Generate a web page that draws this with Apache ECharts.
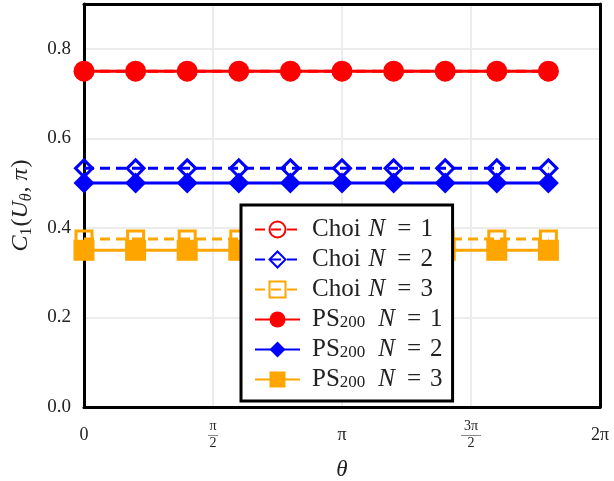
<!DOCTYPE html>
<html><head><meta charset="utf-8">
<script src="https://cdn.jsdelivr.net/npm/echarts@6/dist/echarts.min.js"></script>
<style>html,body{margin:0;padding:0;background:#fff}#c{width:614px;height:481px}</style>
</head><body><div id="c"></div>
<script>
// theta in units of pi
const thetaOverPi = [0, 0.2, 0.4, 0.6, 0.8, 1.0, 1.2, 1.4, 1.6, 1.8];
const choiN1 = [0.75, 0.75, 0.75, 0.75, 0.75, 0.75, 0.75, 0.75, 0.75, 0.75];
const choiN2 = [0.533, 0.533, 0.533, 0.533, 0.533, 0.533, 0.533, 0.533, 0.533, 0.533];
const choiN3 = [0.375, 0.375, 0.375, 0.375, 0.375, 0.375, 0.375, 0.375, 0.375, 0.375];
const psN1 = [0.75, 0.75, 0.75, 0.75, 0.75, 0.75, 0.75, 0.75, 0.75, 0.75];
const psN2 = [0.5, 0.5, 0.5, 0.5, 0.5, 0.5, 0.5, 0.5, 0.5, 0.5];
const psN3 = [0.35, 0.35, 0.35, 0.35, 0.35, 0.35, 0.35, 0.35, 0.35, 0.35];
const xTickLabels = {0: '{n|0}', 0.5: '{f|π}\n{bar|―}\n{f|2}', 1: '{n|π}', 1.5: '{f|3π}\n{bar|――}\n{f|2}', 2: '{n|2π}'};
const yTickLabels = ['0.0', '0.2', '0.4', '0.6', '0.8'];

const FONT = 'Liberation Serif';
const TXT = '#222';
const RED = '#ff0000', BLUE = '#0000ff', ORANGE = '#ffa500';
function pairs(ys) { return ys.map((y, i) => [thetaOverPi[i], y]); }

function choi(name, ys, color, symbol, size) {
  return {
    name, type: 'line', data: pairs(ys), symbol, symbolSize: size,
    lineStyle: {color, width: 3, type: [10, 6]},
    itemStyle: {color: 'rgba(255,255,255,0)', borderColor: color, borderWidth: 3},
    z: 2
  };
}
function ps(name, ys, color, symbol, size) {
  return {
    name, type: 'line', data: pairs(ys), symbol, symbolSize: size,
    lineStyle: {color, width: 3},
    itemStyle: {color, borderColor: color, borderWidth: 0},
    z: 3
  };
}
const frameLine = {show: true, onZero: false, lineStyle: {color: '#000', width: 3}};

const chart = echarts.init(document.getElementById('c'));
chart.setOption({
  animation: false,
  backgroundColor: '#fff',
  grid: {left: 84, right: 14, top: 4, bottom: 74, containLabel: false, outerBoundsMode: 'none'},
  xAxis: [{
    type: 'value', min: 0, max: 2, interval: 0.5,
    axisLine: frameLine, axisTick: {show: false},
    splitLine: {show: true, showMinLine: false, showMaxLine: false, lineStyle: {color: '#ececec', width: 2}},
    axisLabel: {
      margin: 13, color: TXT, fontFamily: FONT,
      formatter: v => xTickLabels[v],
      rich: {
        n: {fontSize: 18, fontFamily: FONT, color: TXT, lineHeight: 31},
        f: {fontSize: 14, fontFamily: FONT, color: TXT, lineHeight: 13},
        bar: {fontSize: 10, fontFamily: FONT, color: TXT, lineHeight: 4}
      }
    },
    name: 'θ', nameLocation: 'middle', nameGap: 51,
    nameTextStyle: {fontFamily: FONT, fontStyle: 'italic', fontSize: 23, color: TXT}
  }, {
    type: 'value', position: 'top', min: 0, max: 2, interval: 0.5,
    axisLine: frameLine, axisTick: {show: false}, axisLabel: {show: false}, splitLine: {show: false}
  }],
  yAxis: [{
    type: 'value', min: 0, max: 0.9, interval: 0.2,
    axisLine: frameLine, axisTick: {show: false},
    splitLine: {show: true, showMinLine: false, showMaxLine: false, lineStyle: {color: '#ececec', width: 2}},
    axisLabel: {
      margin: 13, fontSize: 19, fontFamily: FONT, color: TXT,
      formatter: v => { const i = Math.round(v / 0.2); return yTickLabels[i] !== undefined && Math.abs(v - i * 0.2) < 1e-6 ? yTickLabels[i] : ''; }
    },
    name: '{i|C}{s1|1}{n|(}{i|U}{s|θ}{n|,}{i2|π}{n|)}', nameLocation: 'middle', nameGap: 49,
    nameTextStyle: {
      fontFamily: FONT, fontSize: 24, color: TXT,
      rich: {
        i: {fontFamily: FONT, fontStyle: 'italic', fontSize: 24, color: TXT, lineHeight: 28, verticalAlign: 'middle'},
        i2: {fontFamily: FONT, fontStyle: 'italic', fontSize: 24, color: TXT, lineHeight: 28, verticalAlign: 'middle', padding: [0, 1, 0, 6]},
        n: {fontFamily: FONT, fontSize: 24, color: TXT, lineHeight: 28, verticalAlign: 'middle'},
        s1: {fontFamily: FONT, fontSize: 16, color: TXT, lineHeight: 28, verticalAlign: 'bottom', padding: [12, 1, 0, 0]},
        s: {fontFamily: FONT, fontStyle: 'italic', fontSize: 16, color: TXT, lineHeight: 28, verticalAlign: 'bottom', padding: [12, 1, 0, 0]}
      }
    }
  }, {
    type: 'value', position: 'right', min: 0, max: 0.9, interval: 0.2,
    axisLine: frameLine, axisTick: {show: false}, axisLabel: {show: false}, splitLine: {show: false}
  }],
  legend: {
    orient: 'vertical', left: 241, top: 205, z: 10,
    backgroundColor: '#fff', borderColor: '#000', borderWidth: 3, borderRadius: 0,
    padding: [12, 10, 9, 13],
    itemWidth: 45, itemHeight: 20, itemGap: 5,
    data: ['Choi N = 1', 'Choi N = 2', 'Choi N = 3', 'PS200 N = 1', 'PS200 N = 2', 'PS200 N = 3'],
    formatter: name => {
      const m = name.match(/^(\w+?)(200)? N = (\d)$/);
      if (m[2]) return '{n|' + m[1] + '}{s|200}{i|N}{eq|=}{d|' + m[3] + '}';
      return '{n2|' + m[1] + '}{i|N}{eq|=}{d|' + m[3] + '}';
    },
    textStyle: {
      fontFamily: FONT, fontSize: 25, color: TXT, lineHeight: 24,
      rich: {
        n: {fontFamily: FONT, fontSize: 25, color: TXT, lineHeight: 24, verticalAlign: 'middle', padding: [0, 0, 0, 7]},
        n2: {fontFamily: FONT, fontSize: 25, color: TXT, lineHeight: 24, verticalAlign: 'middle', padding: [0, 8, 0, 7]},
        i: {fontFamily: FONT, fontStyle: 'italic', fontSize: 25, color: TXT, lineHeight: 24, verticalAlign: 'middle', padding: [0, 3, 0, 0]},
        eq: {fontFamily: FONT, fontSize: 25, color: TXT, lineHeight: 24, verticalAlign: 'middle', padding: [0, 9, 0, 9]},
        d: {fontFamily: FONT, fontSize: 25, color: TXT, lineHeight: 24, verticalAlign: 'middle'},
        s: {fontFamily: FONT, fontSize: 17, color: TXT, lineHeight: 14, verticalAlign: 'bottom', padding: [0, 13, 0, 0]}
      }
    }
  },
  series: [
    choi('Choi N = 1', choiN1, RED, 'circle', 17),
    choi('Choi N = 2', choiN2, BLUE, 'diamond', 17),
    choi('Choi N = 3', choiN3, ORANGE, 'rect', 16),
    ps('PS200 N = 1', psN1, RED, 'circle', 21),
    ps('PS200 N = 2', psN2, BLUE, 'diamond', 21),
    ps('PS200 N = 3', psN3, ORANGE, 'rect', 21)
  ]
});
</script></body></html>
